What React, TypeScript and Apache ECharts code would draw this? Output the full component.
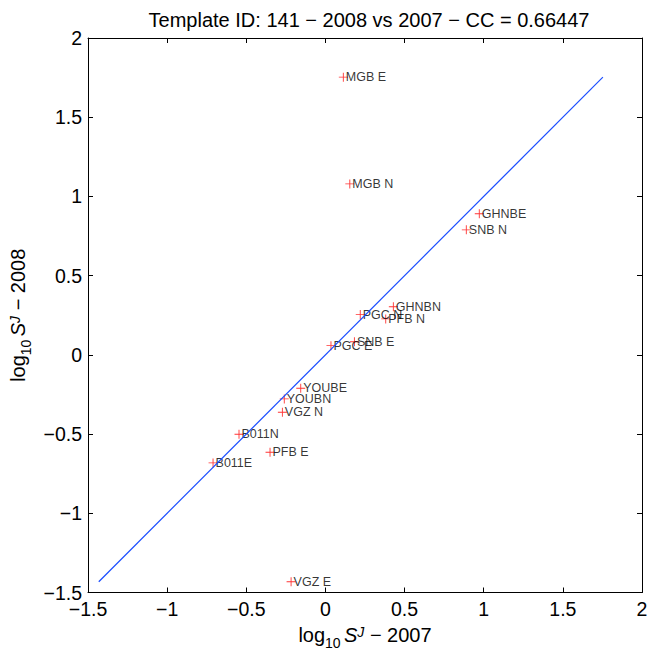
import React, { useEffect, useRef } from "react";
import * as echarts from "echarts";

const stations = ["MGB E", "MGB N", "GHNBE", "SNB N", "GHNBN", "PGC N", "PFB N", "SNB E", "PGC E", "YOUBE", "YOUBN", "VGZ N", "B011N", "PFB E", "B011E", "VGZ E"];
const x2007 = [0.113, 0.154, 0.972, 0.890, 0.429, 0.220, 0.381, 0.183, 0.035, -0.156, -0.260, -0.272, -0.546, -0.350, -0.710, -0.217];
const y2008 = [1.753, 1.079, 0.891, 0.789, 0.304, 0.254, 0.227, 0.083, 0.058, -0.211, -0.278, -0.362, -0.501, -0.615, -0.682, -1.432];
const axisMin = -1.5;
const axisMax = 2;
const axisStep = 0.5;
const titleText = "Template ID: 141 \u2212 2008 vs 2007 \u2212 CC = 0.66447";

const FONT = "'Liberation Sans', Arial, Helvetica, sans-serif";
const fmt = (v: number) => String(v).replace("-", "\u2212");

const nameRich = {
  a: { fontSize: 20, fontFamily: FONT, color: "#000", lineHeight: 24, verticalAlign: "top" },
  sub: { fontSize: 14, fontFamily: FONT, color: "#000", lineHeight: 16, verticalAlign: "top", padding: [11, 0, 0, 0] },
  s: { fontSize: 20, fontFamily: FONT, fontStyle: "italic", color: "#000", lineHeight: 24, verticalAlign: "top" },
  sup: { fontSize: 14, fontFamily: FONT, fontStyle: "italic", color: "#000", lineHeight: 12, verticalAlign: "top" },
};

export default function App() {
  const ref = useRef<HTMLDivElement>(null);
  useEffect(() => {
    if (!ref.current) return;
    const chart = echarts.init(ref.current, null, { renderer: "svg" });
    const allVals = [...x2007, ...y2008];
    const lo = Math.min(...allVals);
    const hi = Math.max(...allVals);
    const pts = stations.map((n, i) => ({ name: n, value: [x2007[i], y2008[i]] }));
    const baseAxis = {
      type: "value",
      min: axisMin,
      max: axisMax,
      interval: axisStep,
      splitLine: { show: false },
      axisLine: { show: true, onZero: false, lineStyle: { color: "#000", width: 1 } },
      axisTick: { show: true, inside: true, length: 5, lineStyle: { color: "#000" } },
    };
    chart.setOption({
      animation: false,
      backgroundColor: "#fff",
      title: {
        text: titleText,
        left: 364,
        top: 5,
        textAlign: "center",
        textStyle: { fontSize: 20, fontWeight: "normal", fontFamily: FONT, color: "#000" },
      },
      grid: { left: 88, right: 5, top: 38, bottom: 61.5, containLabel: false, outerBoundsMode: "none" },
      xAxis: [
        {
          ...baseAxis,
          position: "bottom",
          axisLabel: { fontSize: 19.5, fontFamily: FONT, color: "#000", margin: 6, formatter: fmt },
          name: "{a|log}{sub|10} {s|S}{sup|J}{a| \u2212 2007}",
          nameLocation: "middle",
          nameGap: 32,
          nameTextStyle: { rich: nameRich },
        },
        { ...baseAxis, position: "top", axisLabel: { show: false } },
      ],
      yAxis: [
        {
          ...baseAxis,
          position: "left",
          axisLabel: { fontSize: 19.5, fontFamily: FONT, color: "#000", margin: 6, formatter: fmt },
          name: "{a|log}{sub|10} {s|S}{sup|J}{a| \u2212 2008}",
          nameLocation: "middle",
          nameGap: 52,
          nameRotate: 90,
          nameTextStyle: { rich: nameRich },
        },
        { ...baseAxis, position: "right", axisLabel: { show: false } },
      ],
      series: [
        {
          type: "line",
          data: [[lo, lo], [hi, hi]],
          symbol: "none",
          lineStyle: { color: "#1a4dff", width: 1.2 },
          silent: true,
        },
        {
          type: "scatter",
          data: pts,
          symbol: "path://M4.5,0h1v4.5h4.5v1h-4.5v4.5h-1v-4.5h-4.5v-1h4.5z",
          symbolSize: 9,
          itemStyle: { color: "#ff0000" },
          label: {
            show: true,
            position: "right",
            distance: -2,
            formatter: (p: any) => p.name,
            fontSize: 12.5,
            fontFamily: FONT,
            color: "#000",
          },
        },
      ],
    });
    return () => chart.dispose();
  }, []);
  return <div ref={ref} style={{ position: "fixed", left: 0, top: 0, width: 647, height: 654 }} />;
}
